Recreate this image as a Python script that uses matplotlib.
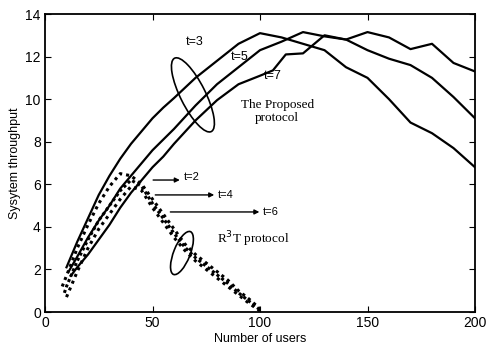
import matplotlib
matplotlib.use("Agg")
import matplotlib.pyplot as plt
from matplotlib.patches import Ellipse
import matplotlib.transforms as mtransforms

# ---- data ----
x_p3 = [10, 15, 20, 25, 30, 35, 40, 45, 50, 55, 60, 70, 80, 90, 100, 110, 120, 130, 140, 150, 160, 170, 180, 190, 200]
y_p3 = [2.1, 3.3, 4.4, 5.5, 6.4, 7.2, 7.9, 8.5, 9.1, 9.6, 10.05, 11.0, 11.8, 12.6, 13.1, 12.9, 12.6, 12.3, 11.5, 11.0, 10.0, 8.9, 8.4, 7.7, 6.8]

x_p5 = [11, 15, 20, 25, 30, 35, 40, 45, 50, 55, 60, 70, 80, 90, 100, 110, 120, 130, 140, 150, 160, 170, 180, 190, 200]
y_p5 = [1.9, 2.6, 3.5, 4.3, 5.0, 5.8, 6.4, 7.0, 7.6, 8.1, 8.6, 9.7, 10.7, 11.5, 12.3, 12.7, 13.15, 12.95, 12.8, 12.3, 11.9, 11.6, 11.0, 10.1, 9.1]

x_p7 = [12, 15, 20, 25, 30, 35, 40, 45, 50, 55, 60, 70, 80, 90, 100, 106, 112, 120, 130, 140, 150, 160, 170, 180, 190, 200]
y_p7 = [1.7, 2.1, 2.7, 3.4, 4.1, 4.9, 5.6, 6.2, 6.8, 7.3, 7.9, 9.0, 9.95, 10.7, 11.1, 11.35, 12.1, 12.15, 13.0, 12.8, 13.15, 12.9, 12.35, 12.6, 11.7, 11.3]

x_r2 = [8, 10, 15, 20, 25, 30, 35, 40, 45, 50, 55, 60, 65, 70, 75, 80, 85, 90, 95, 100]
y_r2 = [1.2, 1.7, 3.0, 4.1, 5.1, 5.9, 6.5, 6.4, 6.0, 5.3, 4.6, 3.9, 3.2, 2.7, 2.3, 1.9, 1.5, 1.0, 0.6, 0.15]

x_r4 = [9, 10, 15, 20, 25, 30, 35, 40, 45, 50, 55, 60, 65, 70, 75, 80, 85, 90, 95, 100]
y_r4 = [0.9, 1.2, 2.4, 3.4, 4.3, 5.0, 5.7, 6.2, 5.9, 5.1, 4.4, 3.7, 3.05, 2.55, 2.15, 1.75, 1.35, 0.9, 0.5, 0.1]

x_r6 = [10, 15, 20, 25, 30, 35, 40, 45, 50, 55, 60, 65, 70, 75, 80, 85, 90, 95, 100]
y_r6 = [0.7, 1.9, 3.0, 3.9, 4.6, 5.3, 5.9, 5.7, 4.9, 4.2, 3.5, 2.9, 2.4, 2.0, 1.6, 1.2, 0.8, 0.4, 0.05]

x_ticks = [0, 50, 100, 150, 200]
y_ticks = [0, 2, 4, 6, 8, 10, 12, 14]

fig = plt.figure(figsize=(4.86, 3.49), dpi=100)
ax = fig.add_axes([45/486, 37/349, 430/486, 298/349])

ax.plot(x_p3, y_p3, color='black', lw=1.6)
ax.plot(x_p5, y_p5, color='black', lw=1.6)
ax.plot(x_p7, y_p7, color='black', lw=1.6)
ax.plot(x_r2, y_r2, color='black', lw=2.2, linestyle=(0, (1, 1.3)))
ax.plot(x_r4, y_r4, color='black', lw=2.2, linestyle=(0, (1, 0.9)))
ax.plot(x_r6, y_r6, color='black', lw=2.2, linestyle=(0, (1, 1.4)))

ax.set_xlim(0, 200)
ax.set_ylim(0, 14)
ax.set_xticks(x_ticks)
ax.set_yticks(y_ticks)
ax.tick_params(direction='in', top=True, right=True, length=4, labelsize=10, pad=3)
for lab in ax.get_xticklabels() + ax.get_yticklabels():
    lab.set_family('Liberation Sans')
for s in ax.spines.values():
    s.set_linewidth(1.3)

ax.set_xlabel('Number of users', fontsize=9, family='Liberation Sans', labelpad=2)
ax.set_ylabel('Sysytem throughput', fontsize=9, family='Liberation Sans', labelpad=3)

# labels
ax.text(69.8, 12.7, 't=3', fontsize=9, ha='center', va='center', family='Liberation Sans')
ax.text(90.7, 12.0, 't=5', fontsize=9, ha='center', va='center', family='Liberation Sans')
ax.text(106, 11.1, 't=7', fontsize=9, ha='center', va='center', family='Liberation Sans')
ax.text(108, 9.4, 'The Proposed\nprotocol', fontsize=9.5, ha='center', va='center',
        family='Liberation Serif', linespacing=1.1)
ax.text(96.7, 3.4, 'R$^3$T protocol', fontsize=9.5, ha='center', va='center', family='Liberation Serif')

arrows = [(49, 64, 6.2, 't=2'), (50, 80, 5.5, 't=4'), (57, 101, 4.7, 't=6')]
for x0, x1, yy, lab in arrows:
    ax.annotate('', xy=(x1, yy), xytext=(x0, yy),
                arrowprops=dict(arrowstyle='-|>', color='black', lw=1, mutation_scale=7))
    ax.text(x1 + 0.5, yy + (0.15 if lab == 't=2' else 0), lab, fontsize=8, ha='left', va='center',
            family='Liberation Sans')

# ellipses in pixel units around data centres
def add_ellipse(cx, cy, major_px, minor_px, angle):
    tr = fig.dpi_scale_trans + mtransforms.ScaledTranslation(cx, cy, ax.transData)
    e = Ellipse((0, 0), major_px / 100, minor_px / 100, angle=angle, transform=tr,
                fill=False, edgecolor='black', lw=1.2)
    ax.add_patch(e)

add_ellipse(68.8, 10.2, 82, 25, -63.4)
add_ellipse(63.7, 2.77, 46, 16.5, 68.4)

fig.savefig('out.png', dpi=100)
